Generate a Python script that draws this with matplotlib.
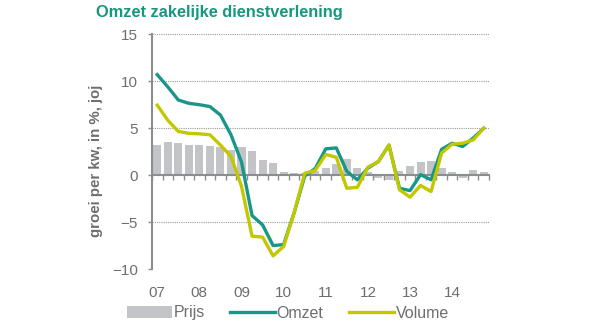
import numpy as np
import matplotlib.pyplot as plt
from matplotlib.ticker import FixedLocator

plt.rcParams['font.family'] = ['Liberation Sans', 'DejaVu Sans']

# kwartalen 2007K1 t/m 2014K4
years = ['07', '08', '09', '10', '11', '12', '13', '14']
prijs = [3.2, 3.5, 3.4, 3.2, 3.2, 3.1, 3.0, 2.7,
         3.0, 2.6, 1.6, 1.3, 0.3, 0.2, 0.2, 0.45,
         0.8, 1.2, 1.7, 0.8, 0.3, -0.3, -0.5, 0.45,
         1.0, 1.4, 1.55, 0.8, 0.35, -0.3, 0.5, 0.3]
omzet = [10.7, 9.4, 8.0, 7.65, 7.5, 7.3, 6.4, 4.3,
         1.4, -4.3, -5.3, -7.5, -7.4, -4.0, -0.1, 0.7,
         2.8, 2.9, 0.4, -0.5, 0.75, 1.45, 3.2, -1.4,
         -1.65, 0.05, -0.5, 2.75, 3.4, 3.05, 3.95, 5.0]
volume = [7.45, 5.85, 4.65, 4.45, 4.4, 4.3, 3.2, 2.0,
          -1.2, -6.5, -6.6, -8.6, -7.6, -4.0, 0.2, 0.5,
          2.2, 1.9, -1.4, -1.3, 0.85, 1.45, 3.2, -1.55,
          -2.35, -1.1, -1.75, 2.35, 3.3, 3.4, 3.75, 5.0]

teal = '#1a9688'
lime = '#c2c800'
grey = '#c3c4c8'
txt = '#6d6e71'
axis_col = '#8a8d91'


def main():
    fig = plt.figure(figsize=(6, 3.26), dpi=100)
    ax = fig.add_axes([0.2533, 0.1748, 0.5617, 0.72])
    q = np.arange(len(prijs))

    bars = ax.bar(q, prijs, width=0.76, color=grey, label='Prijs', zorder=2)
    l1, = ax.plot(q, omzet, color=teal, lw=2.4, label='Omzet', zorder=3,
                  solid_joinstyle='round')
    l2, = ax.plot(q, volume, color=lime, lw=2.4, label='Volume', zorder=4,
                  solid_joinstyle='round')

    ax.set_xlim(-0.5, len(prijs) - 0.5)
    ax.set_ylim(-10, 15)
    ax.set_yticks([-10, -5, 0, 5, 10, 15])
    for y in [-10, -5, 5, 10, 15]:
        ax.axhline(y, color='#9a9a9a', lw=0.8, ls=(0, (1, 1)), zorder=1)

    for s in ['top', 'right']:
        ax.spines[s].set_visible(False)
    ax.spines['left'].set_color(axis_col)
    ax.spines['left'].set_linewidth(1.5)
    ax.spines['bottom'].set_position(('data', 0))
    ax.spines['bottom'].set_color(axis_col)
    ax.spines['bottom'].set_linewidth(1.5)
    ax.spines['bottom'].set_zorder(2.5)

    ax.set_xticks(q[::4])
    ax.set_xticklabels(years)
    ax.xaxis.set_minor_locator(FixedLocator(np.arange(-0.5, len(prijs), 1)))
    ax.tick_params(axis='x', which='major', length=0, pad=80,
                   labelsize=11, labelcolor=txt)
    ax.tick_params(axis='x', which='minor', length=3.5, width=1,
                   color=axis_col, direction='out')
    ax.tick_params(axis='y', length=3, width=1, color=axis_col, pad=7,
                   labelsize=11, labelcolor=txt)

    ax.set_ylabel('groei per kw, in %, joj', fontsize=10.8,
                  fontweight='bold', color=txt)
    ax.yaxis.set_label_coords(-0.145, 0.46)

    fig.text(96 / 600, 1 - 12 / 326, 'Omzet zakelijke dienstverlening',
             fontsize=11.8, fontweight='bold', color='#17977e', va='center')

    fig.legend([bars, l1, l2], ['Prijs', 'Omzet', 'Volume'],
               loc='center', bbox_to_anchor=(288 / 600, 1 - 313 / 326),
               ncol=3, frameon=False, fontsize=11.5, labelcolor=txt,
               handlelength=2.8, handleheight=0.8, handletextpad=0.1,
               columnspacing=1.6)

    fig.savefig('out.png', dpi=100)


if __name__ == '__main__':
    main()
